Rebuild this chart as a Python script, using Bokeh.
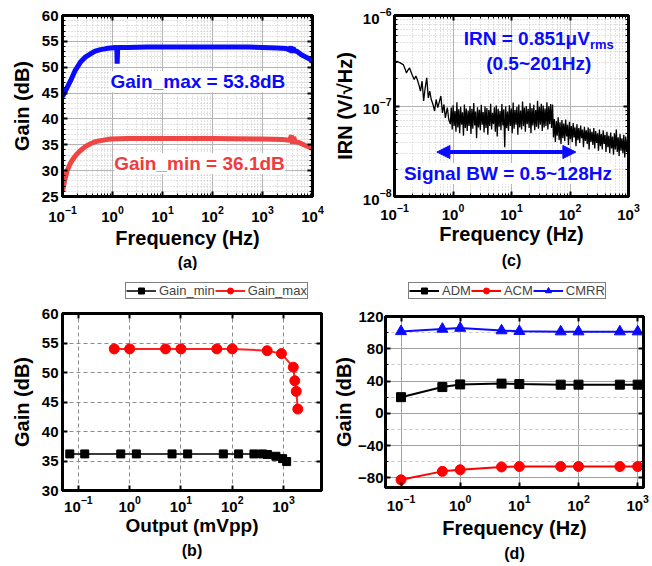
import numpy as np
from bokeh.plotting import figure
from bokeh.models import (FixedTicker, LinearAxis, Label, Arrow, NormalHead,
                          Legend, LegendItem, Title, CustomJSTickFormatter)
from bokeh.layouts import row, column
from bokeh.embed import file_html
from bokeh.resources import INLINE

FONT = "Liberation Sans"

# ---------------- (a) Gain vs frequency ----------------
freq_gmax = [0.1, 0.12, 0.145, 0.18, 0.229, 0.29, 0.363, 0.45, 0.575, 0.75, 0.91, 1.15, 1.22,
             1.24, 1.27, 2, 5, 10, 50, 100, 500, 1000, 2000, 3000, 3500, 3700, 3900, 4100,
             4400, 5000, 6000, 8000, 10000]
gain_gmax = [44.3, 45.8, 47.4, 49.4, 51.0, 52.0, 52.6, 53.1, 53.4, 53.6, 53.7, 53.8, 53.8,
             50.7, 53.8, 53.8, 53.9, 53.9, 53.9, 53.9, 53.9, 53.8, 53.7, 53.6, 53.3, 54.0, 52.8,
             53.7, 53.2, 53.0, 52.4, 51.8, 51.2]
freq_gmin = [0.1, 0.11, 0.124, 0.14, 0.156, 0.19, 0.229, 0.29, 0.363, 0.45, 0.575, 0.75, 0.91,
             2, 10, 100, 1000, 2500, 3500, 3800, 4000, 4200, 4500, 5500, 7000, 10000]
gain_gmin = [26.0, 28.0, 30.0, 31.2, 32.0, 33.1, 33.9, 34.7, 35.2, 35.6, 35.8, 36.0, 36.1,
             36.2, 36.2, 36.2, 36.1, 36.0, 35.9, 36.8, 35.2, 36.5, 35.6, 35.4, 34.9, 34.3]
ticks_a_x = [0.1, 1, 10, 100, 1000, 10000]
ticks_a_y = [25, 30, 35, 40, 45, 50, 55, 60]

# ---------------- (c) IRN spectrum (nV/rtHz) ----------------
irn_low_f = [0.100, 0.110, 0.125, 0.141, 0.150, 0.160, 0.170, 0.181, 0.195, 0.217, 0.232,
             0.245, 0.262, 0.278, 0.296, 0.315, 0.335, 0.356, 0.378, 0.40, 0.425, 0.455,
             0.485, 0.515, 0.55, 0.585, 0.62, 0.66, 0.70, 0.74, 0.80, 0.85]
irn_low_nv = [305, 312, 300, 287, 262, 232, 250, 263, 230, 196, 215, 196, 170, 146, 188, 114,
              160, 205, 123, 146, 118, 104, 88, 118, 96, 112, 129, 84, 104, 74, 96, 70]
irn_band_nv = [63, 96, 55, 102, 60, 88, 52, 110, 58, 92,
               50, 98, 62, 85, 47, 104, 57, 94, 53, 89,
               60, 100, 49, 93, 56, 108, 61, 87, 44, 97,
               58, 91, 54, 103, 62, 86, 51, 99, 57, 95,
               48, 90, 60, 106, 55, 84, 63, 97, 52, 101,
               46, 93, 59, 88, 54, 105, 61, 92, 35, 99,
               57, 87, 53, 102, 60, 94, 50, 109, 56, 91,
               62, 98, 48, 104, 58, 89, 55, 112, 60, 96,
               52, 100, 63, 93, 57, 107, 50, 95, 61, 103,
               54, 90, 59, 114, 56, 98, 62, 106, 53, 101,
               58, 94, 60, 110, 55, 99, 63, 105, 57, 104,
               45, 72, 40, 68, 47, 75, 42, 66, 38, 70,
               44, 64, 41, 71, 46, 62, 37, 67, 43, 60,
               40, 65, 45, 58, 36, 63, 42, 57, 39, 61,
               44, 55, 35, 59, 41, 54, 38, 58, 33, 56,
               40, 52, 37, 57, 34, 53, 39, 50, 32, 55,
               36, 49, 33, 54, 38, 48, 31, 52, 35, 47,
               30, 51, 34, 46, 29, 50, 33, 55, 31, 45,
               28, 49, 32, 44, 30, 48, 27, 46, 31, 43, 33]
irn_band_f = np.geomspace(0.9, 1000, len(irn_band_nv))
ticks_c_x = [0.1, 1, 10, 100, 1000]
ticks_c_y = [1e-8, 1e-7, 1e-6]

# ---------------- (b) Gain vs output ----------------
out_gmin = [0.068, 0.133, 0.67, 1.35, 6.7, 13.5, 67, 133, 265, 390, 485, 710, 960, 1150]
gain_b_min = [36.2, 36.2, 36.2, 36.2, 36.2, 36.2, 36.2, 36.2, 36.2, 36.2, 36.1, 35.8, 35.4, 34.9]
out_gmax = [0.5, 1, 5, 10, 50, 100, 480, 910, 1550, 1660, 1770, 1900]
gain_b_max = [54.0, 54.0, 54.0, 54.0, 54.0, 54.0, 53.7, 53.2, 50.9, 48.6, 46.8, 43.8]
ticks_b_x = [0.1, 1, 10, 100, 1000]
ticks_b_y = [30, 35, 40, 45, 50, 55, 60]

# ---------------- (d) ADM / ACM / CMRR ----------------
freq_d = [0.1, 0.5, 1, 5, 10, 50, 100, 500, 1000]
adm = [20, 32.5, 35.8, 36.8, 36.2, 35.5, 35.5, 35.5, 35.5]
acm = [-82.5, -72, -70, -66.5, -66, -66, -66, -66, -66]
cmrr = [101.5, 104.5, 105.6, 102.5, 101.7, 101.2, 101.2, 101.2, 101.2]
ticks_d_x = [0.1, 1, 10, 100, 1000]
ticks_d_y = [-80, -40, 0, 40, 80, 120]


def log_minor(majors):
    return [m * k for m in majors[:-1] for k in range(2, 10)]


def make_fig(w, h, xr, yr, xtype, ytype, bl, br, bt, bb):
    p = figure(width=w, height=h, x_range=xr, y_range=yr, x_axis_type=xtype, y_axis_type=ytype,
               output_backend="svg", toolbar_location=None,
               min_border_left=bl, min_border_right=br, min_border_top=bt, min_border_bottom=bb)
    p.outline_line_color = "black"
    p.outline_line_width = 3
    p.background_fill_color = "white"
    p.border_fill_color = "white"
    return p


def style_axis(ax):
    ax.axis_line_color = "black"
    ax.axis_line_width = 3
    ax.major_tick_in = 5
    ax.major_tick_out = 0
    ax.major_tick_line_width = 2
    ax.minor_tick_in = 3
    ax.minor_tick_out = 0
    ax.minor_tick_line_width = 1
    ax.major_label_text_font = FONT
    ax.major_label_text_font_style = "bold"
    ax.major_label_text_font_size = "15px"
    ax.major_label_text_color = "black"
    ax.axis_label_text_font = FONT
    ax.axis_label_text_font_style = "bold"
    ax.axis_label_text_font_size = "20px"
    ax.axis_label_text_color = "black"
    ax.major_label_standoff = 3
    ax.axis_label_standoff = 4


def mirror_axis(ticker):
    ax = LinearAxis(ticker=ticker, formatter=CustomJSTickFormatter(code="return ''"))
    style_axis(ax)
    ax.major_label_text_font_size = "2px"
    ax.major_label_standoff = 0
    return ax


def setup_axes(p, xtick, ytick, xlabel, ylabel, caption, xl_so, xa_so, yl_so, ya_so, cap_so):
    p.xaxis.ticker = xtick
    p.yaxis.ticker = ytick
    p.xgrid.ticker = xtick
    p.ygrid.ticker = ytick
    p.xaxis.axis_label = xlabel
    p.yaxis.axis_label = ylabel
    for ax in p.xaxis + p.yaxis:
        style_axis(ax)
    p.xaxis.major_label_standoff = xl_so
    p.xaxis.axis_label_standoff = xa_so
    p.yaxis.major_label_standoff = yl_so
    p.yaxis.axis_label_standoff = ya_so
    p.add_layout(mirror_axis(xtick), "above")
    p.add_layout(mirror_axis(ytick), "right")
    t = Title(text=caption, align="center", text_font=FONT, text_font_size="16px",
              text_font_style="bold", text_color="black", standoff=cap_so)
    p.add_layout(t, "below")


def legend_strip(width, height, entries, loc):
    # legend sits in its own strip above the panel; its proxy renderers use the real
    # series but lie outside this strip's (empty) ranges, so only the legend shows
    q = figure(width=width, height=height, x_range=(-10, -9), y_range=(-1000, -999),
               x_axis_location=None, y_axis_location=None, output_backend="svg",
               toolbar_location=None, min_border=0)
    q.outline_line_color = None
    q.xgrid.visible = False
    q.ygrid.visible = False
    items = []
    for label, xs, ys, lcolor, mcolor, marker, size in entries:
        r1 = q.line(xs, ys, line_color=lcolor, line_width=2)
        r2 = q.scatter(xs, ys, marker=marker, size=size, color=mcolor)
        items.append(LegendItem(label=label, renderers=[r1, r2]))
    leg = Legend(items=items, orientation="horizontal", location=loc,
                 label_text_font=FONT, label_text_font_size="13px",
                 border_line_color="black", border_line_width=1, padding=0, spacing=0,
                 margin=0, glyph_width=30, glyph_height=15, label_standoff=3, label_height=15)
    q.add_layout(leg, "center")
    return q


# ================= (a) =================
pa = make_fig(330, 270, (0.1, 1e4), (25, 60), "log", "linear", 62, 18, 15, 74)
xt_a = FixedTicker(ticks=ticks_a_x, minor_ticks=log_minor(ticks_a_x))
yt_a = FixedTicker(ticks=ticks_a_y, minor_ticks=list(range(25, 61)))
setup_axes(pa, xt_a, yt_a, "Frequency (Hz)", "Gain (dB)", "(a)", 9, 2, 4, 6, 0)
for g in (pa.xgrid, pa.ygrid):
    g.grid_line_color = "#b4b4b4"
    g.grid_line_width = 1
    g.minor_grid_line_color = "#c4c4c4"
    g.minor_grid_line_dash = "1 2"
pa.line(freq_gmax, gain_gmax, line_color="#0a0aff", line_width=5)
pa.line(freq_gmin, gain_gmin, line_color="#f04545", line_width=5)
pa.add_layout(Label(x=51, y=47.2, text="Gain_max = 53.8dB", text_align="center",
                    text_baseline="middle", text_font=FONT, text_font_style="bold",
                    text_font_size="19px", text_color="#0a0aff", background_fill_color="white"))
pa.add_layout(Label(x=55, y=31.4, text="Gain_min = 36.1dB", text_align="center",
                    text_baseline="middle", text_font=FONT, text_font_style="bold",
                    text_font_size="19px", text_color="#f03c3c", background_fill_color="white"))

# ================= (c) =================
pc = make_fig(322, 270, (0.1, 1000), (1e-8, 1e-6), "log", "log", 49, 24, 14, 74)
xt_c = FixedTicker(ticks=ticks_c_x, minor_ticks=log_minor(ticks_c_x))
yt_c = FixedTicker(ticks=ticks_c_y, minor_ticks=log_minor(ticks_c_y))
setup_axes(pc, xt_c, yt_c, "Frequency (Hz)", "IRN (V/\u221aHz)", "(c)", 7, 0, 3, 4, 4)
for g in (pc.xgrid, pc.ygrid):
    g.grid_line_color = "#b4b4b4"
    g.grid_line_width = 1
    g.minor_grid_line_color = "#c4c4c4"
    g.minor_grid_line_dash = "1 2"
irn_f = list(irn_low_f) + list(irn_band_f)
irn_v = [v * 1e-9 for v in list(irn_low_nv) + list(irn_band_nv)]
pc.line(irn_f, irn_v, line_color="black", line_width=1.3)
pc.add_layout(Arrow(start=NormalHead(size=13, fill_color="#0a0aff", line_color="#0a0aff"),
                    end=NormalHead(size=13, fill_color="#0a0aff", line_color="#0a0aff"),
                    x_start=0.53, y_start=3.1e-8, x_end=126, y_end=3.1e-8,
                    line_color="#0a0aff", line_width=4))
blue_txt = dict(text_font=FONT, text_font_style="bold", text_font_size="19px",
                text_color="#0a0aff", text_baseline="middle")
pc.add_layout(Label(x=219, y=5.58e-7, text="IRN = 0.851\u03bcV", text_align="right", **blue_txt))
pc.add_layout(Label(x=219, y=4.8e-7, text="rms", text_align="left", text_font=FONT,
                    text_font_style="bold", text_font_size="13px", text_color="#0a0aff",
                    text_baseline="middle"))
pc.add_layout(Label(x=29.2, y=2.97e-7, text="(0.5~201Hz)", text_align="center", **blue_txt))
pc.add_layout(Label(x=8.7, y=1.79e-8, text="Signal BW = 0.5~128Hz", text_align="center",
                    background_fill_color="white", **blue_txt))

# ================= (b) =================
pb = make_fig(330, 264, (0.049, 5500), (30, 60), "log", "linear", 62, 9, 11, 76)
xt_b = FixedTicker(ticks=ticks_b_x, minor_ticks=[])
yt_b = FixedTicker(ticks=ticks_b_y, minor_ticks=[])
setup_axes(pb, xt_b, yt_b, "Output (mVpp)", "Gain (dB)", "(b)", 5, 0, 4, 6, 3)
pb.xaxis.axis_label_text_font_size = "19px"
for g in (pb.xgrid, pb.ygrid):
    g.grid_line_color = "#8c8c8c"
    g.grid_line_width = 1
    g.grid_line_dash = "4 3"
pb.line(out_gmin, gain_b_min, line_color="#3a3a3a", line_width=2)
pb.scatter(out_gmin, gain_b_min, marker="square", size=8, color="black")
pb.line(out_gmax, gain_b_max, line_color="#ff2020", line_width=2)
pb.scatter(out_gmax, gain_b_max, marker="circle", size=10, color="#ff0000")
leg_b = legend_strip(330, 32, [("Gain_min", out_gmin, gain_b_min, "#3a3a3a", "black", "square", 8),
                               ("Gain_max", out_gmax, gain_b_max, "#ff2020", "#ff0000", "circle", 10)],
                     (63, 3))

# ================= (d) =================
pd_ = make_fig(322, 264, (0.0547, 1254), (-92, 120), "log", "linear", 48, 9, 14, 79)
xt_d = FixedTicker(ticks=ticks_d_x, minor_ticks=[])
yt_d = FixedTicker(ticks=ticks_d_y, minor_ticks=[-60, -20, 20, 60, 100])
setup_axes(pd_, xt_d, yt_d, "Frequency (Hz)", "Gain (dB)", "(d)", 7, 3, 2, 0, 3)
pd_.xgrid.grid_line_color = "#a0a0a0"
pd_.ygrid.grid_line_color = "#a0a0a0"
pd_.ygrid.minor_grid_line_color = "#c8c8c8"
pd_.ygrid.minor_grid_line_dash = "3 3"
pd_.line(freq_d, adm, line_color="black", line_width=2)
pd_.scatter(freq_d, adm, marker="square", size=9, color="black")
pd_.line(freq_d, acm, line_color="#ff0000", line_width=2)
pd_.scatter(freq_d, acm, marker="circle", size=10, color="#ff0000")
pd_.line(freq_d, cmrr, line_color="#0a0aff", line_width=2)
pd_.scatter(freq_d, cmrr, marker="triangle", size=11, color="#0a0aff")
leg_d = legend_strip(322, 32, [("ADM", freq_d, adm, "black", "black", "square", 9),
                               ("ACM", freq_d, acm, "#ff0000", "#ff0000", "circle", 10),
                               ("CMRR", freq_d, cmrr, "#0a0aff", "#0a0aff", "triangle", 11)],
                     (23, 3))

layout = column(row(pa, pc), row(column(leg_b, pb), column(leg_d, pd_)))
open("out.html", "w").write(file_html(layout, INLINE))
